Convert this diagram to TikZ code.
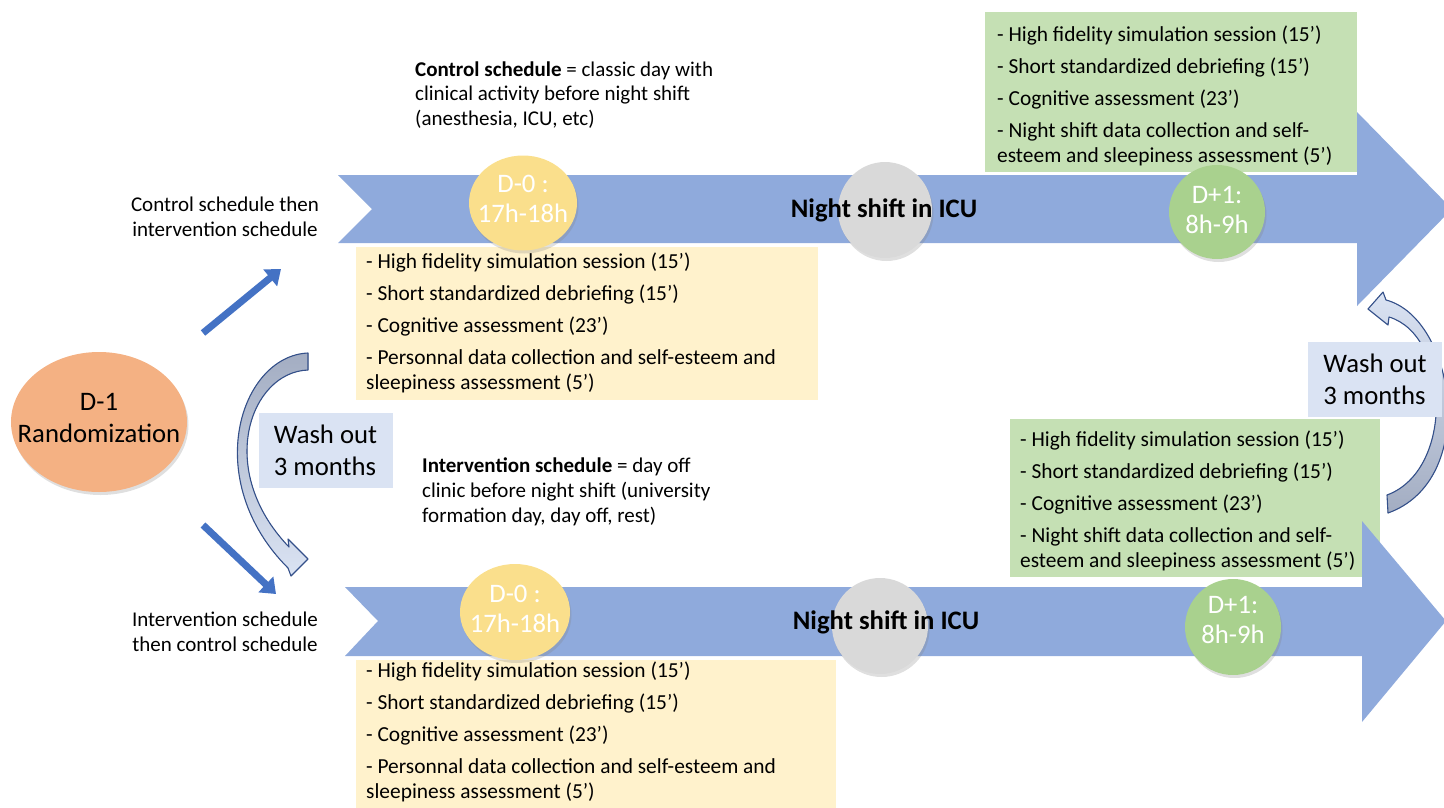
\documentclass[tikz,border=0pt]{standalone}
\usepackage{fontspec}
\setmainfont{Carlito}
\usetikzlibrary{arrows.meta,shadows,shapes.geometric}
\definecolor{bandblue}{HTML}{8FAADC}
\definecolor{circyellow}{HTML}{FADF8C}
\definecolor{boxyellow}{HTML}{FFF2CC}
\definecolor{boxgreen}{HTML}{C5E0B4}
\definecolor{circgreen}{HTML}{A9D18E}
\definecolor{circgray}{HTML}{D9D9D9}
\definecolor{randorange}{HTML}{F4B183}
\definecolor{washbox}{HTML}{DAE3F3}
\definecolor{arrowblue}{HTML}{4472C4}
\definecolor{curveedge}{HTML}{34508A}
\definecolor{curvelight}{HTML}{DAE3F3}
\definecolor{curvedark}{HTML}{A3ADC2}
\newcommand\bodyfnt{\fontsize{21}{25}\selectfont}
\newcommand\listfnt{\fontsize{21.4}{25}\selectfont}
\newcommand\descfnt{\fontsize{21}{24.5}\selectfont}
\newcommand\bigfnt{\fontsize{26.7}{32}\selectfont}
\newcommand\circfnt{\fontsize{26.7}{30}\selectfont}
\begin{document}
\begin{tikzpicture}[x=1pt,y=-1pt,
  band/.style={fill=bandblue, draw=none},
  boxrect/.style={rectangle, draw=none, inner sep=0pt},
  listtext/.style={anchor=west, align=left, font=\listfnt, inner sep=0pt},
  shadowed/.style={drop shadow={opacity=0.25, shadow xshift=1.5pt, shadow yshift=-3pt}},
  circ/.style={ellipse, inner sep=0pt, shadowed},
  circtext/.style={align=center, font=\circfnt, text=white, inner sep=0pt},
  nightlabel/.style={font=\bigfnt\bfseries, inner sep=0pt},
  sidelabel/.style={align=center, font=\bodyfnt, inner sep=0pt},
  desclabel/.style={align=left, inner sep=0pt, anchor=north west},
  washlabel/.style={rectangle, fill=washbox, align=left, font=\bigfnt,
    minimum width=134pt, minimum height=75pt, inner sep=0pt},
  thickarrow/.style={draw=arrowblue, line width=7pt, -{Triangle[length=14pt,width=21pt]}},
  curvearrow/.style={draw=curveedge, line width=1.1pt, line join=round}
]
\clip (0,0) rectangle (1444,807);

% ---------- list boxes ----------
\node[boxrect, fill=boxyellow, minimum width=462pt, minimum height=153pt] (ybox1) at (587,323.5) {};
\node[listtext] (ytext1) at (366,322.5)
  {- High fidelity simulation session (15’)\\[7pt]
   - Short standardized debriefing (15’)\\[7pt]
   - Cognitive assessment (23’)\\[7pt]
   - Personnal data collection and self-esteem and\\
   sleepiness assessment (5’)};
\node[boxrect, fill=boxyellow, minimum width=480pt, minimum height=153pt] (ybox2) at (596,736.5) {};
\node[listtext] (ytext2) at (366,731.5)
  {- High fidelity simulation session (15’)\\[7pt]
   - Short standardized debriefing (15’)\\[7pt]
   - Cognitive assessment (23’)\\[7pt]
   - Personnal data collection and self-esteem and\\
   sleepiness assessment (5’)};
\node[boxrect, fill=boxgreen, minimum width=372pt, minimum height=160pt] (gbox1) at (1171,92) {};
\node[listtext] (gtext1) at (997,96)
  {- High fidelity simulation session (15’)\\[7pt]
   - Short standardized debriefing (15’)\\[7pt]
   - Cognitive assessment (23’)\\[7pt]
   - Night shift data collection and self-\\
   esteem and sleepiness assessment (5’)};
\node[boxrect, fill=boxgreen, minimum width=370pt, minimum height=158pt] (gbox2) at (1195,498) {};
\node[listtext] (gtext2) at (1020,500.5)
  {- High fidelity simulation session (15’)\\[7pt]
   - Short standardized debriefing (15’)\\[7pt]
   - Cognitive assessment (23’)\\[7pt]
   - Night shift data collection and self-\\
   esteem and sleepiness assessment (5’)};

% ---------- timeline bands ----------
\fill[band] (338,175) -- (1357,175) -- (1357,112) -- (1452,209) -- (1357,306)
  -- (1357,243) -- (338,243) -- (372,209) -- cycle;
\fill[band] (345,587) -- (1362,587) -- (1362,521) -- (1446,621) -- (1362,722)
  -- (1362,656) -- (345,656) -- (378,621) -- cycle;

% ---------- circles ----------
\node[circ, fill=circyellow, minimum width=108pt, minimum height=95pt] (d0a) at (523,203) {};
\node[circtext] (d0atext) at (523,199) {D-0 :\\17h-18h};
\node[circ, fill=circgray, minimum width=94pt, minimum height=96pt] (nsa) at (885,210) {};
\node[circ, fill=circgreen, minimum width=96pt, minimum height=94pt] (d1a) at (1217,212) {};
\node[circtext] (d1atext) at (1217,210) {D+1:\\8h-9h};
\node[nightlabel] (nighta) at (884,210) {Night shift in ICU};

\node[circ, fill=circyellow, minimum width=110pt, minimum height=96pt] (d0b) at (515,612) {};
\node[circtext] (d0btext) at (515,609) {D-0 :\\17h-18h};
\node[circ, fill=circgray, minimum width=96pt, minimum height=96pt] (nsb) at (880,626) {};
\node[circ, fill=circgreen, minimum width=96pt, minimum height=96pt] (d1b) at (1233,627) {};
\node[circtext] (d1btext) at (1233,620) {D+1:\\8h-9h};
\node[nightlabel] (nightb) at (886,622) {Night shift in ICU};

% ---------- texts ----------
\node[desclabel, font=\descfnt] (ctrl) at (415,61.5)
  {\textbf{Control schedule} = classic day with\\clinical activity before night shift\\(anesthesia, ICU, etc)};
\node[desclabel, font=\bodyfnt] (interv) at (422,458)
  {\textbf{Intervention schedule} = day off\\clinic before night shift (university\\formation day, day off, rest)};
\node[sidelabel] (arm1) at (225,217) {Control schedule then\\intervention schedule};
\node[sidelabel] (arm2) at (225,632) {Intervention schedule\\then control schedule};

% ---------- randomization ----------
\node[ellipse, fill=randorange, minimum width=176pt, minimum height=140pt, inner sep=0pt,
      shadowed] (rand) at (99,422) {};
\node[align=center, font=\bigfnt, inner sep=0pt] (randtext) at (99,418) {D-1\\Randomization};

\coordinate (ua1) at (203,333);
\coordinate (ua2) at (281,269);
\coordinate (da1) at (203,525);
\coordinate (da2) at (276,594);
\draw[thickarrow] (ua1) -- (ua2);
\draw[thickarrow] (da1) -- (da2);

% ---------- wash out (left) ----------
\fill[top color=curvedark, bottom color=curvelight] (308,370) .. controls (250,372) and (215,470) .. (289,547)
  -- (288,539) -- (308,559) -- (291,576) -- (288,568)
  .. controls (200,480) and (240,356) .. (308,353) -- cycle;
\draw[curvearrow] (308,370) .. controls (250,372) and (215,470) .. (289,547)
  -- (288,539) -- (308,559) -- (291,576) -- (288,568)
  .. controls (200,480) and (240,356) .. (308,353) -- cycle;
\node[washlabel] (wash1) at (325.5,450.5) {Wash out\\3 months};

% ---------- wash out (right) ----------
\fill[top color=curvelight, bottom color=curvedark] (1387,495) .. controls (1455,470) and (1450,335) .. (1389,317)
  -- (1388,325) -- (1368,309) -- (1383,292) -- (1386,300)
  .. controls (1455,318) and (1480,480) .. (1388,513) -- cycle;
\draw[curvearrow] (1387,495) .. controls (1455,470) and (1450,335) .. (1389,317)
  -- (1388,325) -- (1368,309) -- (1383,292) -- (1386,300)
  .. controls (1455,318) and (1480,480) .. (1388,513) -- cycle;
\node[washlabel] (wash2) at (1375,379) {Wash out\\3 months};
\end{tikzpicture}
\end{document}
